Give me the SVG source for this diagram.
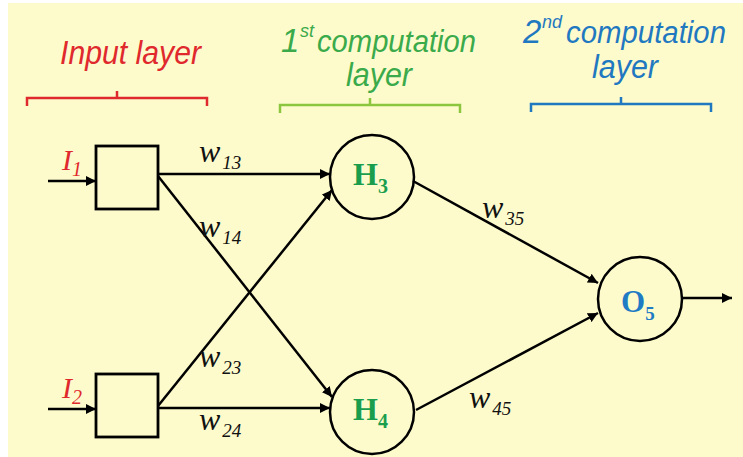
<svg xmlns="http://www.w3.org/2000/svg" width="743" height="457" viewBox="0 0 743 457">
<defs>
<marker id="ah" viewBox="0 0 10 10" refX="10" refY="5" markerWidth="4" markerHeight="4" orient="auto" markerUnits="strokeWidth">
<path d="M0,0 L10,5 L0,10 z" fill="#000"/>
</marker>
</defs>
<style>
.bg{fill:#fdfbcc}
.arr{stroke:#000;stroke-width:2.5;fill:none;marker-end:url(#ah)}
.box{fill:none;stroke:#000;stroke-width:2.8}
.nd{fill:none;stroke:#000;stroke-width:2.5}
.w{font-family:"Liberation Sans Narrow","Liberation Serif",serif;font-style:italic}
.w{font-family:"Liberation Serif",serif}
.hd{font-family:"Liberation Sans",sans-serif;font-style:italic;font-size:33px}
.cp{font-family:"Liberation Sans",sans-serif;font-style:italic;font-size:31px}
.sup{font-family:"Liberation Sans",sans-serif;font-style:italic;font-size:18px}
.nt{font-family:"Liberation Serif",serif;font-weight:bold}
.br{fill:none;stroke-width:2.5}
</style>
<rect x="0" y="0" width="743" height="457" fill="#ffffff"/>
<rect class="bg" x="8" y="3" width="735" height="454"/>

<g id="headers">
<text class="hd" x="60" y="64" fill="#e0292d" textLength="141" lengthAdjust="spacingAndGlyphs">Input layer</text>
<text class="hd" x="281" y="52" fill="#3aaa4a">1</text>
<text class="sup" x="300" y="37" fill="#3aaa4a">st</text>
<text class="cp" x="317" y="52" fill="#3aaa4a" textLength="159" lengthAdjust="spacingAndGlyphs">computation</text>
<text class="hd" x="379" y="86" fill="#3aaa4a" text-anchor="middle" textLength="66" lengthAdjust="spacingAndGlyphs">layer</text>
<text class="hd" x="523" y="43" fill="#1f78c0">2</text>
<text class="sup" x="542" y="28" fill="#1f78c0">nd</text>
<text class="cp" x="566" y="43" fill="#1f78c0" textLength="160" lengthAdjust="spacingAndGlyphs">computation</text>
<text class="hd" x="625" y="78" fill="#1f78c0" text-anchor="middle" textLength="66" lengthAdjust="spacingAndGlyphs">layer</text>
</g>

<g id="braces">
<path class="br" stroke="#e0292d" d="M27,106 V98 H207 V106 M117,98 V91"/>
<path class="br" stroke="#8cc63f" d="M280,113 V105 H460 V113 M370,105 V98"/>
<path class="br" stroke="#1f78c0" d="M531,112 V104 H711 V112 M621,104 V97"/>
</g>

<g id="connectors">
<line class="arr" x1="48" y1="181" x2="96" y2="181"/>
<line class="arr" x1="48" y1="409" x2="96" y2="409"/>
<line class="arr" x1="158" y1="174" x2="330" y2="174"/>
<line class="arr" x1="158" y1="176" x2="332" y2="397"/>
<line class="arr" x1="158" y1="406" x2="332" y2="190"/>
<line class="arr" x1="158" y1="408" x2="330" y2="408"/>
<line class="arr" x1="413" y1="181" x2="598" y2="283"/>
<line class="arr" x1="416" y1="410" x2="598" y2="313"/>
<line class="arr" x1="682" y1="298" x2="732" y2="298"/>
</g>

<g id="labels" font-style="italic">
<text class="w" x="62" y="170" font-size="30" fill="#e0292d">I<tspan font-size="20" dy="6">1</tspan></text>
<text class="w" x="62" y="398" font-size="30" fill="#e0292d">I<tspan font-size="20" dy="6">2</tspan></text>
<text class="w" x="199" y="162" font-size="32" fill="#111">w<tspan font-size="19" dx="2" dy="7">13</tspan></text>
<text class="w" x="199" y="237" font-size="32" fill="#111">w<tspan font-size="19" dx="2" dy="7">14</tspan></text>
<text class="w" x="199" y="367" font-size="32" fill="#111">w<tspan font-size="19" dx="2" dy="7">23</tspan></text>
<text class="w" x="199" y="430" font-size="32" fill="#111">w<tspan font-size="19" dx="2" dy="7">24</tspan></text>
<text class="w" x="482" y="218" font-size="32" fill="#111">w<tspan font-size="19" dx="2" dy="7">35</tspan></text>
<text class="w" x="469" y="408" font-size="32" fill="#111">w<tspan font-size="19" dx="2" dy="7">45</tspan></text>
</g>

<g id="I1"><rect class="box" x="96" y="146" width="62" height="63"/></g>
<g id="I2"><rect class="box" x="96" y="374" width="62" height="63"/></g>
<g id="H3">
<circle class="nd" cx="372" cy="177" r="42"/>
<text class="nt" x="353" y="185" font-size="32" fill="#1a9e4e">H<tspan font-size="20" dy="8">3</tspan></text>
</g>
<g id="H4">
<circle class="nd" cx="372" cy="412" r="42"/>
<text class="nt" x="353" y="420" font-size="32" fill="#1a9e4e">H<tspan font-size="20" dy="8">4</tspan></text>
</g>
<g id="O5">
<circle class="nd" cx="640" cy="299" r="42"/>
<text class="nt" x="621" y="312" font-size="31" fill="#1f7bc4">O<tspan font-size="19" dy="8">5</tspan></text>
</g>
</svg>
